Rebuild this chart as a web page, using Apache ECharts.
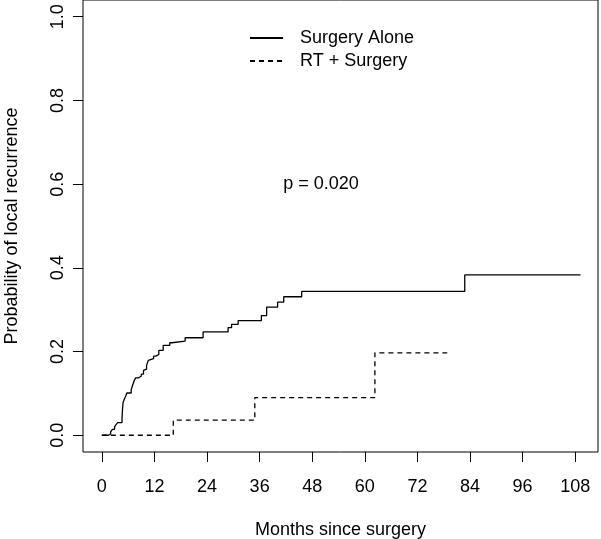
<!DOCTYPE html>
<html>
<head>
<meta charset="utf-8">
<script src="https://cdn.jsdelivr.net/npm/echarts@6/dist/echarts.min.js"></script>
<style>
html,body{margin:0;padding:0;background:#fff;}
#chart{width:601px;height:539px;}
</style>
</head>
<body>
<div id="chart"></div>
<script>
const xTicks = [0, 12, 24, 36, 48, 60, 72, 84, 96, 108];
const yTicks = [0, 0.2, 0.4, 0.6, 0.8, 1.0];
const seriesNames = ['Surgery Alone', 'RT + Surgery'];
const surgeryAloneTime = [0,1.5,2.0,2.4,2.9,3.2,3.6,4.6,4.7,4.85,5.2,5.5,5.7,6.7,7.0,7.4,7.7,8.3,9.0,9.5,9.9,10.2,10.6,11.0,11.8,12.3,13.0,14.0,15.5,16.0,19.0,23.1,28.8,29.6,31.1,36.4,37.6,40.1,41.5,45.6,82.8,109.2];
const surgeryAloneProb = [0,.003,.008,.014,.020,.025,.030,.040,.060,.079,.088,.095,.101,.109,.119,.131,.137,.141,.146,.155,.158,.167,.179,.183,.189,.193,.203,.215,.221,.225,.233,.247,.257,.265,.274,.286,.306,.318,.331,.344,.383,.383];
const rtSurgeryTime = [0, 16.3, 34.9, 62.3, 78.8];
const rtSurgeryProb = [0, 0.036, 0.090, 0.197, 0.197];
const pText = 'p = 0.020';
const pAt = [50, 0.6];

const chart = echarts.init(document.getElementById('chart'), null, {renderer: 'canvas'});
const font = 'Liberation Sans, Arial, Helvetica, sans-serif';
const option = {
  animation: false,
  backgroundColor: '#fff',
  textStyle: {fontFamily: font, color: '#000'},
  grid: {left: 83, right: 3, top: 0, bottom: 87, show: true, borderColor: '#000', borderWidth: 1, containLabel: false, outerBoundsMode: 'none'},
  legend: {
    orient: 'vertical', left: 249, top: 29, padding: 0,
    itemWidth: 33, itemHeight: 14, itemGap: 5,
    itemStyle: {opacity: 0},
    textStyle: {fontSize: 18, color: '#000', fontFamily: font, padding: [0, 0, 0, 12]},
    data: seriesNames
  },
  xAxis: {
    type: 'value', min: -4.3, max: 113.2,
    name: 'Months since surgery', nameLocation: 'middle', nameGap: 69,
    nameTextStyle: {fontSize: 18, color: '#000', fontFamily: font},
    axisLine: {show: false, onZero: false},
    splitLine: {show: false},
    axisTick: {show: true, inside: false, length: 10, lineStyle: {color: '#000', width: 1}, customValues: xTicks},
    axisLabel: {fontSize: 18, color: '#000', margin: 26, customValues: xTicks, fontFamily: font}
  },
  yAxis: {
    type: 'value', min: -0.04, max: 1.04,
    name: 'Probability of local recurrence', nameLocation: 'middle', nameGap: 62, nameRotate: 90,
    nameTextStyle: {fontSize: 18, color: '#000', fontFamily: font},
    axisLine: {show: false, onZero: false},
    splitLine: {show: false},
    axisTick: {show: true, inside: false, length: 10, lineStyle: {color: '#000', width: 1}, customValues: yTicks},
    axisLabel: {fontSize: 18, color: '#000', margin: 16, rotate: 90, customValues: yTicks, fontFamily: font,
      formatter: v => v.toFixed(1)}
  },
  series: [
    {
      name: seriesNames[0], type: 'line', step: 'end', symbol: 'none',
      lineStyle: {color: '#000', width: 1.3, type: 'solid'},
      itemStyle: {color: '#000'},
      data: surgeryAloneTime.map((t, i) => [t, surgeryAloneProb[i]])
    },
    {
      name: seriesNames[1], type: 'line', step: 'end', symbol: 'none',
      lineStyle: {color: '#000', width: 1.3, type: [5, 4]},
      itemStyle: {color: '#000'},
      data: rtSurgeryTime.map((t, i) => [t, rtSurgeryProb[i]])
    }
  ]
};
chart.setOption(option);
const pp = chart.convertToPixel({gridIndex: 0}, pAt);
chart.setOption({graphic: [{type: 'text', x: pp[0], y: pp[1], style: {text: pText, fontSize: 18, fill: '#000', font: '18px ' + font, align: 'center', verticalAlign: 'middle'}}]});
</script>
</body>
</html>
